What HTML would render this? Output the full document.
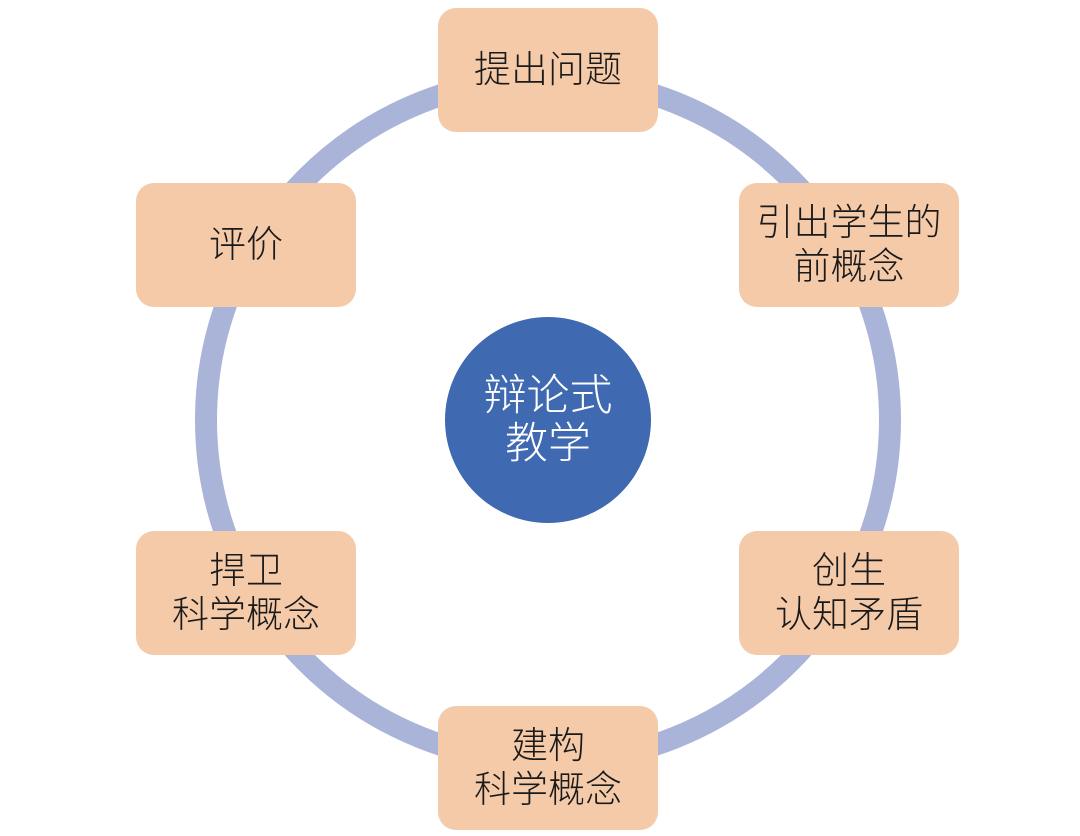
<!DOCTYPE html>
<html><head><meta charset="utf-8"><style>
body{margin:0;width:1080px;height:836px;background:#fff;overflow:hidden;position:relative;font-family:"Liberation Sans","Noto Sans CJK SC",sans-serif;font-weight:300}
.b{position:absolute;width:220px;height:124px;background:#f4caa9;border-radius:18px;display:flex;align-items:center;justify-content:center;text-align:center;font-size:37px;line-height:44px;color:#1a1a1a}
.c{position:absolute;left:445px;top:317px;width:206px;height:206px;border-radius:50%;background:#3f69b0;color:#fff;display:flex;align-items:center;justify-content:center;text-align:center;font-size:43px;line-height:48px}
</style></head><body>
<svg width="1080" height="836" style="position:absolute;left:0;top:0"><circle cx="548" cy="420" r="342" fill="none" stroke="#aab4d9" stroke-width="22"/></svg>
<div class="c">辩论式<br>教学</div>
<div class="b" style="left:438px;top:8px">提出问题</div>
<div class="b" style="left:739px;top:183px">引出学生的<br>前概念</div>
<div class="b" style="left:136px;top:183px">评价</div>
<div class="b" style="left:136px;top:531px">捍卫<br>科学概念</div>
<div class="b" style="left:739px;top:531px">创生<br>认知矛盾</div>
<div class="b" style="left:438px;top:706px">建构<br>科学概念</div>
</body></html>
